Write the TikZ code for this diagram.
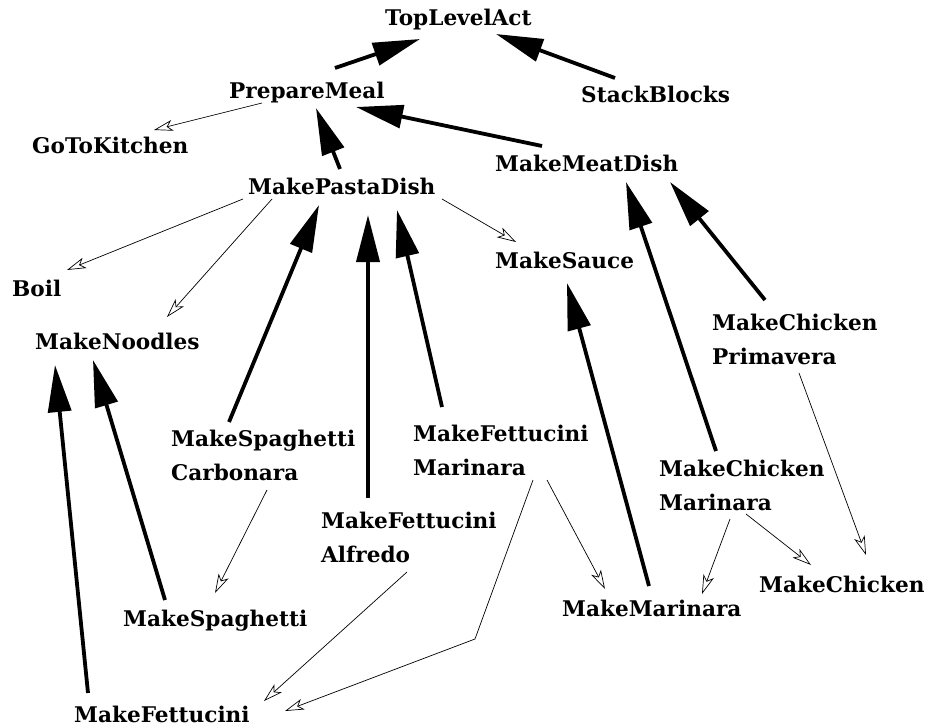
\documentclass[tikz,border=0pt]{standalone}
\usepackage{fontspec}
\setmainfont{DejaVu Serif}
\usetikzlibrary{arrows.meta,calc}
\tikzset{
  lbl/.style={anchor=base west, inner sep=0pt, font=\fontsize{21.6}{34.5}\selectfont\bfseries},
  strong/.style={line width=3.8pt, -{Triangle[length=47pt,width=23pt]}},
  weak/.style={line width=0.7pt, -{Stealth[open,length=19pt,width=11pt,inset=5pt,line width=0.7pt]}},
}
\newcommand{\twoline}[2]{\vtop{\baselineskip=34.5pt\hbox{#1}\hbox{#2}}}
\begin{document}
\begin{tikzpicture}[x=1pt,y=-1pt]
\useasboundingbox (0,0) rectangle (927,728);
% nodes
\node[lbl] (tla) at (385,25) {TopLevelAct};
\node[lbl] (pm)  at (229,98) {PrepareMeal};
\node[lbl] (sb)  at (581,102) {StackBlocks};
\node[lbl] (gtk) at (32,153) {GoToKitchen};
\node[lbl] (mmd) at (495,171) {MakeMeatDish};
\node[lbl] (mpd) at (248,194) {MakePastaDish};
\node[lbl] (boil) at (12,296) {Boil};
\node[lbl] (mn)  at (35,349) {MakeNoodles};
\node[lbl] (msa) at (495,268) {MakeSauce};
\node[lbl] (mcp) at (712,330) {\twoline{MakeChicken}{Primavera}};
\node[lbl] (msc) at (171,446) {\twoline{MakeSpaghetti}{Carbonara}};
\node[lbl] (mfm) at (413,441) {\twoline{MakeFettucini}{Marinara}};
\node[lbl] (mfa) at (321,528) {\twoline{MakeFettucini}{Alfredo}};
\node[lbl] (ms)  at (123,626) {MakeSpaghetti};
\node[lbl] (mf)  at (74,722) {MakeFettucini};
\node[lbl] (mcm) at (659,476) {\twoline{MakeChicken}{Marinara}};
\node[lbl] (mm)  at (562,616) {MakeMarinara};
\node[lbl] (mc)  at (759,592) {MakeChicken};
% strong connectors (child -> parent)
\draw[strong] ($(pm.base west)+(106,-30)$) -- ($(tla.base west)+(35,14)$);
\draw[strong] ($(sb.base west)+(34,-24)$) -- ($(tla.base west)+(111,9)$);
\draw[strong] ($(mpd.base west)+(92,-25)$) -- ($(pm.base west)+(87,10)$);
\draw[strong] ($(mmd.base west)+(47,-25)$) -- ($(pm.base west)+(127,9)$);
\draw[strong] ($(msc.base west)+(58,-24)$) -- ($(mpd.base west)+(71,11)$);
\draw[strong] ($(mfa.base west)+(47,-30)$) -- ($(mpd.base west)+(120,21)$);
\draw[strong] ($(mfm.base west)+(29,-34)$) -- ($(mpd.base west)+(149,16)$);
\draw[strong] ($(ms.base west)+(42,-26)$) -- ($(mn.base west)+(58,11)$);
\draw[strong] ($(mf.base west)+(14,-29)$) -- ($(mn.base west)+(20,16)$);
\draw[strong] ($(mm.base west)+(87,-30)$) -- ($(msa.base west)+(72,15)$);
\draw[strong] ($(mcm.base west)+(57,-25)$) -- ($(mmd.base west)+(131,11)$);
\draw[strong] ($(mcp.base west)+(53,-30)$) -- ($(mmd.base west)+(175,11)$);
% weak connectors (parent -> child)
\draw[weak] ($(pm.base west)+(33,5)$) -- ($(gtk.base west)+(122,-23)$);
\draw[weak] ($(mpd.base west)+(-5,5)$) -- ($(boil.base west)+(55,-26)$);
\draw[weak] ($(mpd.base west)+(24,5)$) -- ($(mn.base west)+(132,-32)$);
\draw[weak] ($(mpd.base west)+(194,5)$) -- ($(msa.base west)+(21,-26)$);
\draw[weak] ($(msc.base west)+(96,44)$) -- ($(ms.base west)+(92,-33)$);
\draw[weak] ($(mfa.base west)+(86,44)$) -- ($(mf.base west)+(190,-21)$);
\coordinate (bend) at ($(mfm.base west)+(62,198)$);
\draw[weak] ($(mfm.base west)+(120,39)$) -- (bend) -- ($(mf.base west)+(211,-11)$);
\draw[weak] ($(mfm.base west)+(134,39)$) -- ($(mm.base west)+(43,-27)$);
\draw[weak] ($(mcm.base west)+(71,43)$) -- ($(mm.base west)+(140,-22)$);
\draw[weak] ($(mcm.base west)+(87,38)$) -- ($(mc.base west)+(52,-27)$);
\draw[weak] ($(mcp.base west)+(87,43)$) -- ($(mc.base west)+(107,-37)$);
\end{tikzpicture}
\end{document}
